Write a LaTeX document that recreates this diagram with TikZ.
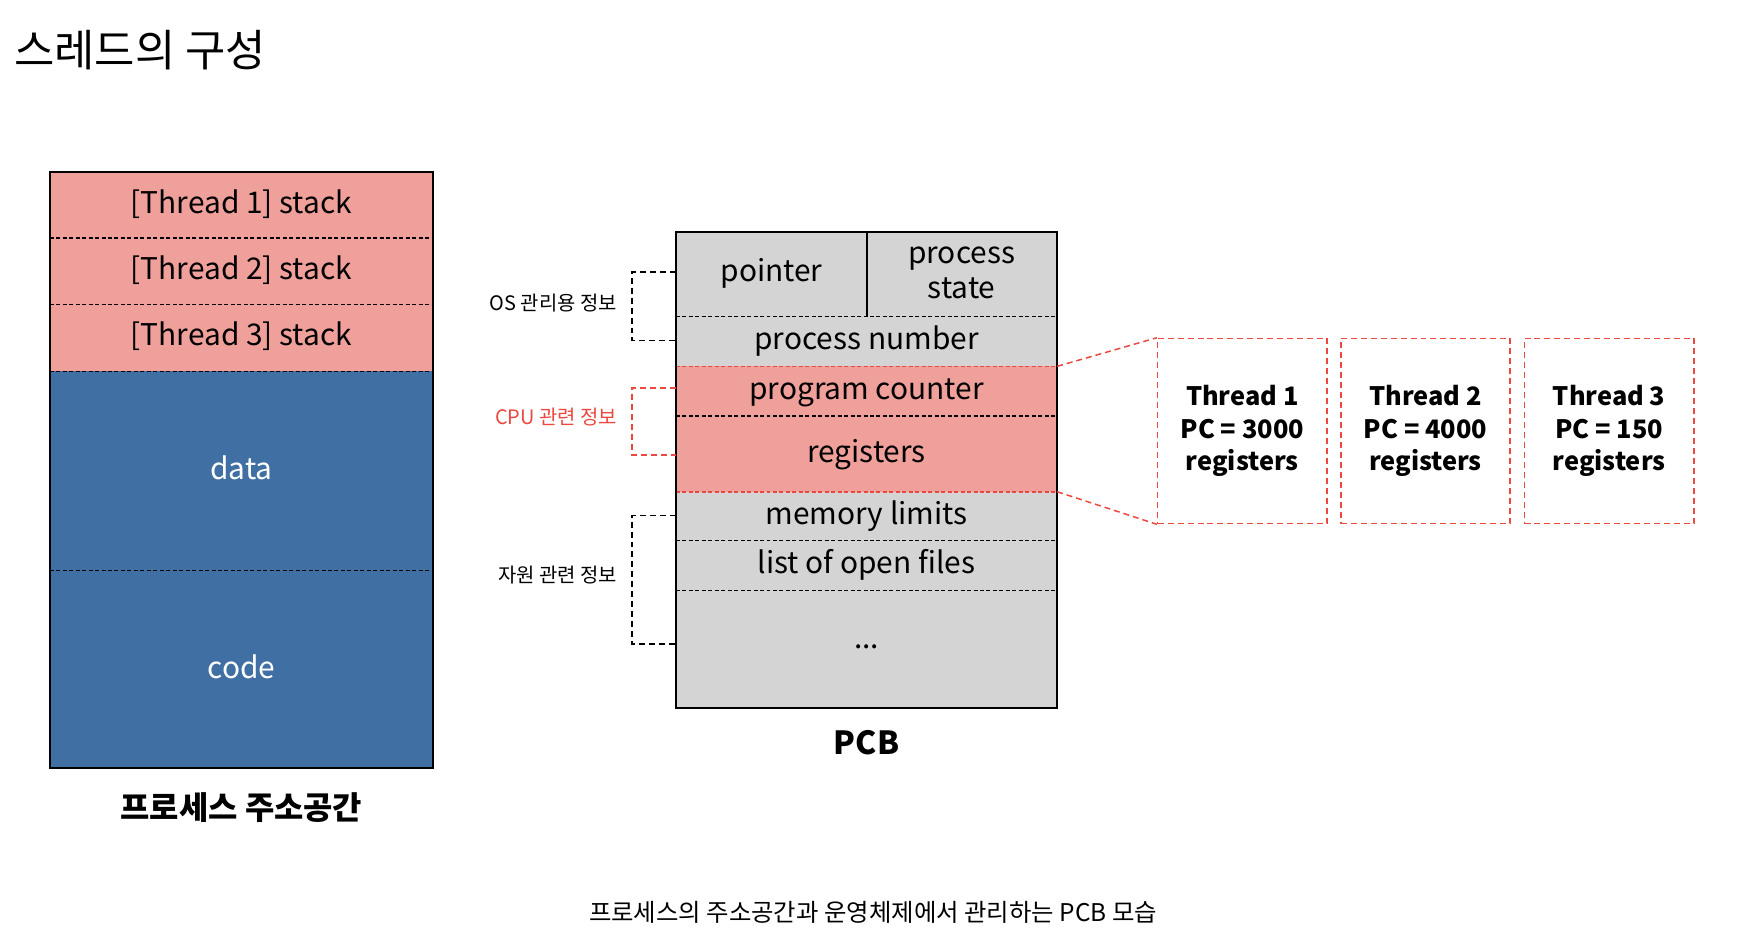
\documentclass[tikz,border=0pt]{standalone}
\usepackage{fontspec}
\setmainfont{Noto Sans CJK KR}
\definecolor{stackpink}{RGB}{240,160,155}
\definecolor{segblue}{RGB}{64,112,163}
\definecolor{pcbgray}{RGB}{212,212,212}
\definecolor{cpured}{RGB}{234,72,64}
\tikzset{
  rowline/.style={line width=1.3pt, dash pattern=on 4pt off 2.5pt},
  brace/.style={line width=1.5pt, dash pattern=on 6pt off 4pt},
  seg/.style={font=\fontsize{30}{36}\selectfont, inner sep=0pt},
  seglabel/.style={font=\fontsize{32}{38}\selectfont\bfseries, inner sep=0pt},
  side/.style={font=\fontsize{20}{24}\selectfont, inner sep=0pt, anchor=east},
  regbox/.style={draw=cpured, brace, minimum width=170pt, minimum height=186pt,
    align=center, font=\fontsize{25.5}{33}\selectfont\bfseries}
}
\begin{document}
\begin{tikzpicture}[x=1pt,y=-1pt]
  \useasboundingbox (0,0) rectangle (1756,952.3);

  \node[anchor=west, inner sep=0pt, font=\fontsize{44}{50}\selectfont] (title) at (14,50) {스레드의 구성};

  % process address space
  \fill[stackpink] (50,173) rectangle (435,373);
  \fill[segblue] (50,373) rectangle (435,772);
  \draw[rowline] (50,239) -- (435,239);
  \draw[rowline] (50,306) -- (435,306);
  \draw[rowline] (50,373) -- (435,373);
  \draw[rowline] (50,573) -- (435,573);
  \draw[line width=2pt] (50,173) rectangle (435,772);
  \node[seg] (T1) at (242.5,205) {[Thread 1] stack};
  \node[seg] (T2) at (242.5,271) {[Thread 2] stack};
  \node[seg] (T3) at (242.5,338) {[Thread 3] stack};
  \node[seg, text=white] (data) at (242.5,470) {data};
  \node[seg, text=white] (code) at (242.5,670) {code};
  \node[seglabel] (space) at (242.5,811) {프로세스 주소공간};

  % PCB
  \fill[pcbgray] (679,233) rectangle (1062,711);
  \fill[stackpink] (679,368) rectangle (1062,494);
  \draw[line width=1.5pt] (871,233) -- (871,318);
  \draw[rowline] (679,318) -- (1062,318);
  \draw[rowline] (679,418) -- (1062,418);
  \draw[rowline] (679,543) -- (1062,543);
  \draw[rowline] (679,593) -- (1062,593);
  \draw[rowline, cpured, line width=1.6pt] (679,368) -- (1062,368);
  \draw[rowline, cpured, line width=1.6pt] (679,494) -- (1062,494);
  \draw[line width=2pt] (679,233) rectangle (1062,711);
  \node[seg] (ptr) at (775,275) {pointer};
  \node[seg, align=center, font=\fontsize{30}{35}\selectfont] (state) at (966,274) {process\\state};
  \node[seg] (pnum) at (870.5,343) {process number};
  \node[seg] (pc) at (870.5,395) {program counter};
  \node[seg] (regs) at (870.5,457) {registers};
  \node[seg] (mem) at (870.5,518) {memory limits};
  \node[seg] (files) at (870.5,567) {list of open files};
  \node[seg] (etc) at (870.5,650) {...};
  \node[seglabel] (pcb) at (870.5,746) {PCB};

  % side brackets
  \draw[brace] (679,273) -- (635,273) -- (635,342) -- (679,342);
  \draw[brace, cpured] (679,390) -- (635,390) -- (635,457) -- (679,457);
  \draw[brace] (679,518) -- (635,518) -- (635,647) -- (679,647);
  \node[side] (os) at (620,304) {OS 관리용 정보};
  \node[side, text=cpured] (cpu) at (620,419) {CPU 관련 정보};
  \node[side] (res) at (620,578) {자원 관련 정보};

  % per-thread registers
  \node[regbox] (R1) at (1248,433) {Thread 1\\PC = 3000\\registers};
  \node[regbox] (R2) at (1432,433) {Thread 2\\PC = 4000\\registers};
  \node[regbox] (R3) at (1616.5,433) {Thread 3\\PC = 150\\registers};
  \coordinate (cpuTop) at (1062,368);
  \coordinate (cpuBot) at (1062,494);
  \draw[brace, cpured] (cpuTop) -- (R1.north west);
  \draw[brace, cpured] (cpuBot) -- (R1.south west);

  \node[inner sep=0pt, font=\fontsize{24.5}{28}\selectfont] (caption) at (877,917) {프로세스의 주소공간과 운영체제에서 관리하는 PCB 모습};
\end{tikzpicture}
\end{document}
